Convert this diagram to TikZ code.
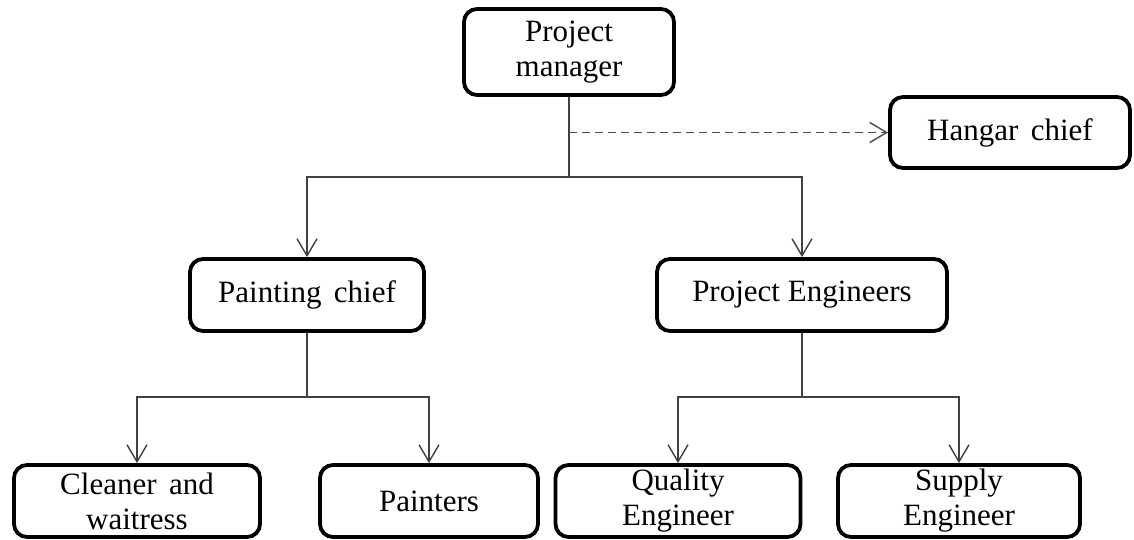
\documentclass[tikz,border=0pt]{standalone}
\usepackage{fontspec}
\setmainfont{Liberation Serif}
\usetikzlibrary{arrows.meta}
\begin{document}
\begin{tikzpicture}[x=1pt,y=-1pt,
  box/.style={draw=black, line width=3.8pt, rounded corners=13pt, align=center, inner sep=0pt,
    font=\fontsize{31}{35}\selectfont, minimum height=72pt, fill=white},
  conn/.style={draw=black!75, line width=1.4pt},
  arr/.style={conn, -{Straight Barb[length=17pt,width=20pt,line width=1.4pt]}},
  dash line/.style={draw=black!70, line width=1.4pt, dash pattern=on 8pt off 5pt}
]
\useasboundingbox[fill=white] (0,0) rectangle (1134,540);
\node[box, minimum width=210pt, minimum height=86pt] (pm) at (569,52) {Project\\manager};
\node[box, minimum width=240pt, minimum height=71pt] (hc) at (1010,132.5) {Hangar\hspace{0.4em}chief};
\node[box, minimum width=234pt] (pc) at (307,295) {Painting\hspace{0.4em}chief};
\node[box, minimum width=290pt] (pe) at (802,295) {Project Engineers};
\node[box, minimum width=246pt] (cw) at (137,501) {Cleaner\hspace{0.4em}and\\waitress};
\node[box, minimum width=218pt] (pa) at (429,501) {Painters};
\node[box, minimum width=245pt] (qe) at (678,501) {Quality\\Engineer};
\node[box, minimum width=242pt] (se) at (959,501) {Supply\\Engineer};

\coordinate (j1) at (569,177);
\coordinate (d1) at (pm.south |- hc.west);
\coordinate (j2) at (307,397);
\coordinate (j3) at (802,397);

\draw[conn] (pm.south) -- (j1);
\draw[arr] (j1) -| (pc.north);
\draw[arr] (j1) -| (pe.north);
\draw[arr, dash line] (d1) -- (hc.west);
\draw[conn] (pc.south) -- (j2);
\draw[arr] (j2) -| (cw.north);
\draw[arr] (j2) -| (pa.north);
\draw[conn] (pe.south) -- (j3);
\draw[arr] (j3) -| (qe.north);
\draw[arr] (j3) -| (se.north);
\end{tikzpicture}
\end{document}
